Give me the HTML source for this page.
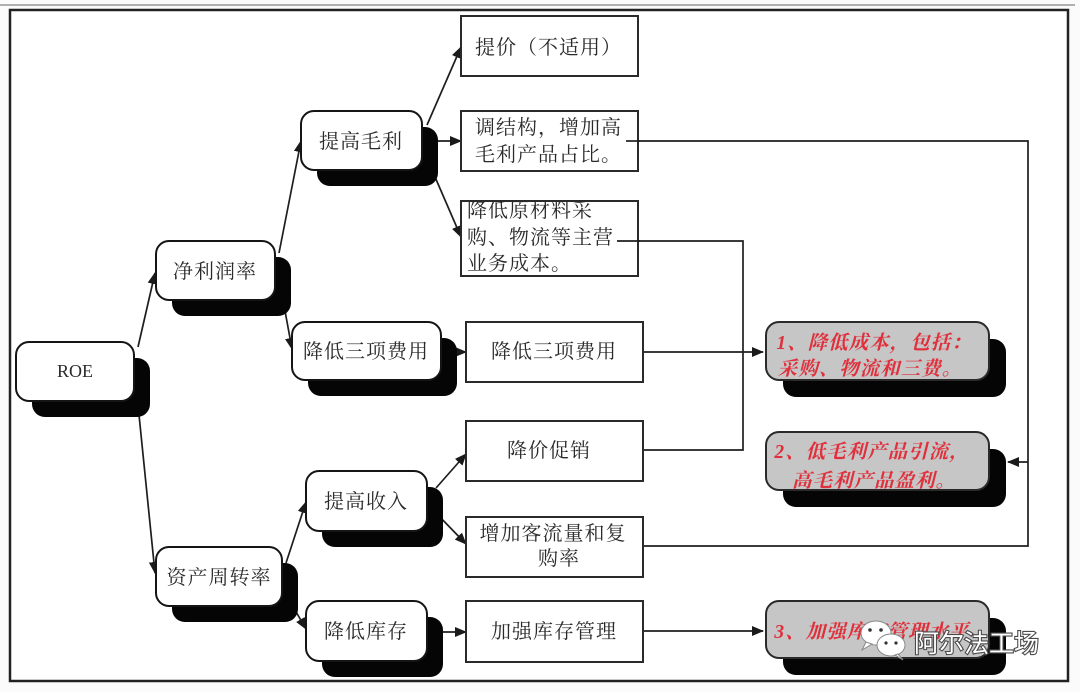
<!DOCTYPE html>
<html>
<head>
<meta charset="utf-8">
<style>
  html,body{margin:0;padding:0;background:#fbfbfb;}
  svg{display:block;}
  .n{font-family:"Liberation Serif","Noto Serif CJK SC",serif;font-size:20px;fill:#2a2a2a;letter-spacing:1px;}
  .r{font-family:"Liberation Serif","Noto Serif CJK SC",serif;font-size:19.5px;fill:#e0303c;font-style:italic;font-weight:bold;letter-spacing:1px;}
  .wm{font-family:"Liberation Sans","Noto Sans CJK SC",sans-serif;font-size:25px;fill:#ffffff;stroke:#4a4a4a;stroke-width:2.2px;paint-order:stroke;}
</style>
</head>
<body>
<svg width="1080" height="692" viewBox="0 0 1080 692" xmlns="http://www.w3.org/2000/svg">
  <defs>
    <marker id="ah" markerWidth="12" markerHeight="10" refX="11" refY="5" orient="auto" markerUnits="userSpaceOnUse">
      <path d="M0,0 L12,5 L0,10 z" fill="#1a1a1a"/>
    </marker>
  </defs>

  <line x1="0" y1="5" x2="1075" y2="5" stroke="#b0b0b0" stroke-width="2"/>
  <rect x="10" y="10" width="1058" height="671" fill="#ffffff" stroke="#222" stroke-width="2.5"/>

  <g stroke="#1e1e1e" stroke-width="1.7" fill="none">
    <line x1="138" y1="347" x2="155" y2="273" marker-end="url(#ah)"/>
    <line x1="137" y1="395" x2="155" y2="573" marker-end="url(#ah)"/>
    <line x1="279" y1="253" x2="301" y2="141" marker-end="url(#ah)"/>
    <line x1="283" y1="300" x2="292" y2="349" marker-end="url(#ah)"/>
    <line x1="427" y1="125" x2="461" y2="47" marker-end="url(#ah)"/>
    <line x1="430" y1="141" x2="461" y2="141" marker-end="url(#ah)"/>
    <line x1="432" y1="170" x2="461" y2="237" marker-end="url(#ah)"/>
    <line x1="445" y1="352" x2="466" y2="352" marker-end="url(#ah)"/>
    <line x1="286" y1="563" x2="306" y2="502" marker-end="url(#ah)"/>
    <line x1="288" y1="598" x2="306" y2="629" marker-end="url(#ah)"/>
    <line x1="436" y1="488" x2="466" y2="454" marker-end="url(#ah)"/>
    <line x1="436" y1="513" x2="466" y2="544" marker-end="url(#ah)"/>
    <line x1="440" y1="632" x2="466" y2="632" marker-end="url(#ah)"/>

    <polyline points="633,141 1028,141 1028,546 643,546"/>
    <line x1="1028" y1="462" x2="1008" y2="462" marker-end="url(#ah)"/>
    <polyline points="624,241 743,241 743,450 643,450"/>
    <line x1="643" y1="352" x2="763" y2="352" marker-end="url(#ah)"/>
    <line x1="643" y1="631" x2="763" y2="631" marker-end="url(#ah)"/>
  </g>

  <g fill="#050505">
    <rect x="32" y="358" width="118" height="59" rx="13"/>
    <rect x="172" y="257" width="119" height="59" rx="13"/>
    <rect x="317" y="127" width="121" height="59" rx="13"/>
    <rect x="308" y="338" width="149" height="58" rx="13"/>
    <rect x="322" y="487" width="121" height="60" rx="13"/>
    <rect x="172" y="563" width="126" height="59" rx="13"/>
    <rect x="322" y="617" width="121" height="60" rx="13"/>
    <rect x="783" y="339" width="223" height="58" rx="13"/>
    <rect x="783" y="449" width="223" height="58" rx="13"/>
    <rect x="783" y="618" width="223" height="57" rx="13"/>
  </g>

  <g fill="#ffffff" stroke="#151515" stroke-width="2">
    <rect x="16" y="342" width="118" height="59" rx="13"/>
    <rect x="156" y="241" width="119" height="59" rx="13"/>
    <rect x="301" y="111" width="121" height="59" rx="13"/>
    <rect x="292" y="322" width="149" height="58" rx="13"/>
    <rect x="306" y="471" width="121" height="60" rx="13"/>
    <rect x="156" y="547" width="126" height="59" rx="13"/>
    <rect x="306" y="601" width="121" height="60" rx="13"/>
  </g>
  <g fill="#c6c6c6" stroke="#2a2a2a" stroke-width="2">
    <rect x="766" y="322" width="223" height="58" rx="13"/>
    <rect x="766" y="432" width="223" height="58" rx="13"/>
    <rect x="766" y="601" width="223" height="57" rx="13"/>
  </g>

  <g fill="#ffffff" stroke="#2a2a2a" stroke-width="2">
    <rect x="461" y="16" width="177" height="60"/>
    <rect x="461" y="111" width="177" height="60"/>
    <rect x="461" y="201" width="177" height="75"/>
    <rect x="466" y="322" width="177" height="60"/>
    <rect x="466" y="421" width="177" height="60"/>
    <rect x="466" y="517" width="177" height="60"/>
    <rect x="466" y="601" width="177" height="61"/>
  </g>
  <g stroke="#1e1e1e" stroke-width="1.7">
    <line x1="626" y1="141" x2="640" y2="141"/>
    <line x1="617" y1="241" x2="640" y2="241"/>
  </g>

  <g class="n" text-anchor="middle">
    <text x="75" y="377" style="font-size:18px;letter-spacing:0">ROE</text>
    <text x="215" y="278">净利润率</text>
    <text x="361" y="148">提高毛利</text>
    <text x="366" y="358">降低三项费用</text>
    <text x="366" y="508">提高收入</text>
    <text x="219" y="584">资产周转率</text>
    <text x="366" y="638">降低库存</text>
  </g>

  <g class="n">
    <text x="475" y="54">提价（不适用）</text>
    <text x="475" y="134">调结构，增加高</text>
    <text x="475" y="161">毛利产品占比。</text>
    <text x="467" y="217">降低原材料采</text>
    <text x="467" y="244">购、物流等主营</text>
    <text x="467" y="270">业务成本。</text>
  </g>
  <g class="n" text-anchor="middle">
    <text x="554" y="358">降低三项费用</text>
    <text x="549" y="457">降价促销</text>
    <text x="553" y="540">增加客流量和复</text>
    <text x="559" y="565">购率</text>
    <text x="554" y="638">加强库存管理</text>
  </g>

  <g class="r" text-anchor="middle">
    <text x="874" y="349">1、降低成本，包括：</text>
    <text x="870" y="375">采购、物流和三费。</text>
    <text x="872" y="458">2、低毛利产品引流，</text>
    <text x="874" y="487">高毛利产品盈利。</text>
    <text x="872" y="638">3、加强库存管理水平</text>
  </g>

  <g>
    <g fill="#ffffff" stroke="#888" stroke-width="1">
      <ellipse cx="876" cy="633" rx="15" ry="12"/>
      <path d="M866,642 L862,650 L872,644 z"/>
      <ellipse cx="891" cy="645" rx="14" ry="11"/>
      <path d="M898,654 L903,660 L895,655 z"/>
    </g>
    <g fill="#333">
      <circle cx="870" cy="630" r="1.8"/>
      <circle cx="881" cy="630" r="1.8"/>
      <circle cx="886" cy="643" r="1.6"/>
      <circle cx="896" cy="643" r="1.6"/>
    </g>
    <text class="wm" x="914" y="652">阿尔法工场</text>
  </g>
</svg>
</body>
</html>
